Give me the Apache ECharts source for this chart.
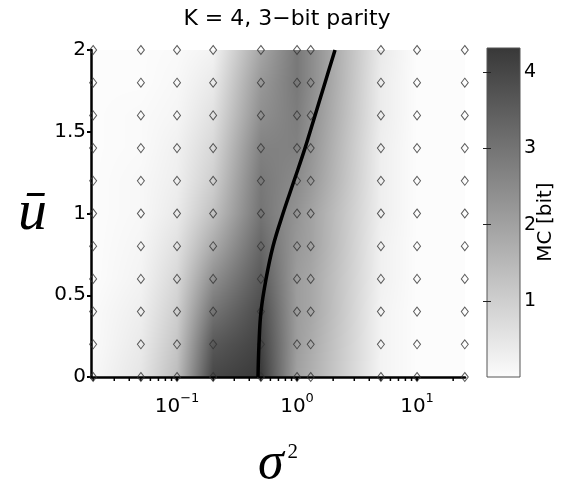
<!DOCTYPE html>
<html>
<head>
<meta charset="utf-8">
<script src="https://cdn.jsdelivr.net/npm/echarts@6/dist/echarts.min.js"></script>
<style>
  html, body { margin: 0; padding: 0; background: #fff; }
  #chart { width: 566px; height: 479px; }
</style>
</head>
<body>
<div id="chart"></div>
<script>
// Sampled input-noise variance (log axis) and mean input bias
const sigma2 = [0.02, 0.05, 0.1, 0.2, 0.5, 1, 1.3, 5, 10, 25];
const ubar = [0, 0.2, 0.4, 0.6, 0.8, 1.0, 1.2, 1.4, 1.6, 1.8, 2.0];

// Memory capacity (bits); one row per ubar value, one column per sigma2 value
const mcRow00 = [0.10, 0.50, 1.40, 4.00, 4.30, 2.00, 1.70, 0.20, 0, 0];
const mcRow02 = [0.05, 0.40, 1.20, 3.60, 4.10, 2.10, 1.80, 0.20, 0, 0];
const mcRow04 = [0.05, 0.30, 1.00, 3.00, 3.90, 2.10, 1.90, 0.20, 0, 0];
const mcRow06 = [0, 0.20, 0.80, 2.40, 3.60, 2.10, 1.90, 0.25, 0, 0];
const mcRow08 = [0, 0.15, 0.60, 1.80, 3.30, 2.20, 2.00, 0.25, 0, 0];
const mcRow10 = [0, 0.10, 0.40, 1.30, 3.00, 2.30, 2.00, 0.30, 0, 0];
const mcRow12 = [0, 0.10, 0.30, 1.00, 2.90, 2.50, 2.20, 0.30, 0, 0];
const mcRow14 = [0, 0.05, 0.25, 0.80, 2.70, 2.70, 2.30, 0.30, 0, 0];
const mcRow16 = [0, 0.05, 0.15, 0.60, 2.40, 2.80, 2.40, 0.35, 0, 0];
const mcRow18 = [0, 0, 0.10, 0.40, 2.20, 2.90, 2.50, 0.35, 0, 0];
const mcRow20 = [0, 0, 0.05, 0.20, 1.90, 2.90, 2.50, 0.40, 0, 0];
const mc = [mcRow00, mcRow02, mcRow04, mcRow06, mcRow08, mcRow10,
            mcRow12, mcRow14, mcRow16, mcRow18, mcRow20];

// Order/chaos transition line
const criticalSigma2 = [0.473, 0.482, 0.501, 0.552, 0.631, 0.764, 0.944, 1.166, 1.413, 1.711, 2.073];
const criticalU      = [0, 0.2, 0.4, 0.6, 0.8, 1.0, 1.2, 1.4, 1.6, 1.8, 2.0];

// Colour scale
const mcMin = 0;
const mcMax = 4.32;
const mcTicks = [1, 2, 3, 4];
const yTicks = [0, 0.5, 1, 1.5, 2];

const SANS = '"DejaVu Sans", "Liberation Sans", sans-serif';
const SERIF = '"Liberation Serif", "DejaVu Serif", serif';

function grayLevel(v) {
  let t = (v - mcMin) / (mcMax - mcMin);
  t = Math.max(0, Math.min(1, t));
  return Math.round(252 - t * (252 - 56));
}
function grayCss(v) {
  const g = grayLevel(v);
  return 'rgb(' + g + ',' + g + ',' + g + ')';
}

const gridPoints = [];
ubar.forEach((u, j) => sigma2.forEach((s, i) => gridPoints.push([s, u, mc[j][i]])));
const curveData = criticalSigma2.map((s, k) => [s, criticalU[k]]);

// minor ticks of the log axis: 2..9 x 10^k
const minorTickValues = [];
for (let e = -2; e <= 1; e++) {
  for (let m = 2; m <= 9; m++) {
    const v = m * Math.pow(10, e);
    if (v > 0.0192 && v < 25.1) minorTickValues.push(v);
  }
}

// Smooth shading of the sampled field, bilinear between samples on screen
function renderField(params, api) {
  if (params.dataIndex !== 0) return null;
  const xs = sigma2.map(s => api.coord([s, ubar[0]])[0]);
  const ys = ubar.map(u => api.coord([sigma2[0], u])[1]);
  const x0 = Math.floor(xs[0]), x1 = Math.ceil(xs[xs.length - 1]);
  const yTop = Math.floor(ys[ys.length - 1]), yBot = Math.ceil(ys[0]);
  const w = x1 - x0, h = yBot - yTop;
  const canvas = document.createElement('canvas');
  canvas.width = w; canvas.height = h;
  const ctx = canvas.getContext('2d');
  const img = ctx.createImageData(w, h);
  for (let py = 0; py < h; py++) {
    const Y = yTop + py + 0.5;
    let j = 0;
    while (j < ys.length - 2 && Y < ys[j + 1]) j++;
    let ty = (ys[j] - Y) / (ys[j] - ys[j + 1]);
    ty = Math.max(0, Math.min(1, ty));
    for (let px = 0; px < w; px++) {
      const X = x0 + px + 0.5;
      let i = 0;
      while (i < xs.length - 2 && X > xs[i + 1]) i++;
      let tx = (X - xs[i]) / (xs[i + 1] - xs[i]);
      tx = Math.max(0, Math.min(1, tx));
      const v = (1 - ty) * ((1 - tx) * mc[j][i] + tx * mc[j][i + 1]) +
                ty * ((1 - tx) * mc[j + 1][i] + tx * mc[j + 1][i + 1]);
      const g = grayLevel(v);
      const k = (py * w + px) * 4;
      img.data[k] = g; img.data[k + 1] = g; img.data[k + 2] = g; img.data[k + 3] = 255;
    }
  }
  ctx.putImageData(img, 0, 0);
  return { type: 'image', style: { image: canvas, x: x0, y: yTop, width: w, height: h } };
}

function renderMinorTicks(params, api) {
  const p = api.coord([api.value(0), 0]);
  return {
    type: 'line',
    shape: { x1: p[0], y1: p[1] + 1, x2: p[0], y2: p[1] + 4 },
    style: { stroke: '#000', lineWidth: 1.5 }
  };
}

function renderColorbar(params, api) {
  const p0 = api.coord([0, mcMin]);
  const p1 = api.coord([1, mcMax]);
  return {
    type: 'rect',
    shape: { x: p0[0], y: p1[1], width: p1[0] - p0[0], height: p0[1] - p1[1] },
    style: {
      fill: new echarts.graphic.LinearGradient(0, 1, 0, 0, [
        { offset: 0, color: grayCss(mcMin) },
        { offset: 1, color: grayCss(mcMax) }
      ]),
      stroke: '#555',
      lineWidth: 1
    }
  };
}

function powerLabel(value) {
  const e = Math.round(Math.log10(value));
  const s = e < 0 ? '\u2212' + (-e) : String(e);
  return '{b|10}{e|' + s + '}';
}

const chart = echarts.init(document.getElementById('chart'), null, { renderer: 'canvas' });

chart.setOption({
  animation: false,
  backgroundColor: '#fff',
  title: {
    text: 'K = 4, 3\u2212bit parity',
    left: 282,
    top: 3,
    textAlign: 'center',
    textStyle: { fontFamily: SANS, fontSize: 22, fontWeight: 'normal', color: '#000' }
  },
  grid: [
    { left: 91, top: 50, width: 374, height: 327, outerBoundsMode: 'none', containLabel: false },
    { left: 487, top: 48, width: 33, height: 329, outerBoundsMode: 'none', containLabel: false }
  ],
  xAxis: [
    {
      gridIndex: 0,
      type: 'log',
      logBase: 10,
      min: 0.0192,
      max: 25.1,
      z: 10,
      name: '{s|\u03c3}{p|2}',
      nameLocation: 'middle',
      nameGap: 59,
      nameTextStyle: {
        rich: {
          s: { fontFamily: SERIF, fontStyle: 'italic', fontSize: 52, color: '#000', lineHeight: 54, verticalAlign: 'bottom' },
          p: { fontFamily: SERIF, fontSize: 21, color: '#000', lineHeight: 21, verticalAlign: 'top', padding: [6, 0, 0, 4] }
        }
      },
      axisLine: { show: true, lineStyle: { color: '#000', width: 2.5 } },
      axisTick: { show: true, inside: false, length: 4, lineStyle: { color: '#000', width: 2 } },
      axisLabel: {
        margin: 10,
        showMinLabel: false,
        showMaxLabel: false,
        formatter: powerLabel,
        rich: {
          b: { fontFamily: SANS, fontSize: 20, color: '#000', lineHeight: 30, verticalAlign: 'bottom' },
          e: { fontFamily: SANS, fontSize: 13, color: '#000', lineHeight: 16, verticalAlign: 'top', padding: [5, 0, 0, 0] }
        }
      },
      splitLine: { show: false },
      minorTick: { show: false }
    },
    { gridIndex: 1, type: 'value', min: 0, max: 1, show: false }
  ],
  yAxis: [
    {
      gridIndex: 0,
      type: 'value',
      min: 0,
      max: 2,
      interval: 0.5,
      z: 10,
      name: '\u016b',
      nameLocation: 'middle',
      nameRotate: 0,
      nameGap: 44,
      nameTextStyle: { fontFamily: SERIF, fontStyle: 'italic', fontSize: 58, color: '#000' },
      axisLine: { show: true, lineStyle: { color: '#000', width: 2.5 } },
      axisTick: { show: true, inside: false, length: 4, lineStyle: { color: '#000', width: 2 } },
      axisLabel: {
        margin: 5,
        fontFamily: SANS,
        fontSize: 20,
        color: '#000',
        formatter: v => (yTicks.indexOf(v) >= 0 ? String(v) : '')
      },
      splitLine: { show: false }
    },
    {
      gridIndex: 1,
      type: 'value',
      position: 'right',
      min: mcMin,
      max: mcMax,
      interval: 1,
      z: 10,
      axisLine: { show: false },
      axisTick: {
        show: true, inside: true, length: 4, lineStyle: { color: '#222', width: 1 },
        customValues: mcTicks
      },
      axisLabel: {
        margin: 4,
        fontFamily: SANS,
        fontSize: 19,
        color: '#000',
        customValues: mcTicks
      },
      splitLine: { show: false }
    },
    {
      gridIndex: 1,
      type: 'value',
      position: 'left',
      min: mcMin,
      max: mcMax,
      interval: 1,
      z: 10,
      axisLine: { show: false },
      axisTick: {
        show: true, inside: true, length: 4, lineStyle: { color: '#222', width: 1 },
        customValues: mcTicks
      },
      axisLabel: { show: false },
      splitLine: { show: false }
    }
  ],
  graphic: [
    {
      type: 'text', x: 105, y: 133,
      style: { text: 'ordered', fontFamily: SANS, fontSize: 24, fill: '#000', align: 'left', verticalAlign: 'middle' }
    },
    {
      type: 'text', x: 370, y: 133,
      style: { text: 'chaotic', fontFamily: SANS, fontSize: 24, fill: '#000', align: 'left', verticalAlign: 'middle' }
    },
    {
      type: 'text', x: 546, y: 222, rotation: Math.PI / 2,
      style: { text: 'MC [bit]', fontFamily: SANS, fontSize: 20, fill: '#000', align: 'center', verticalAlign: 'middle' }
    }
  ],
  series: [
    {
      name: 'MC field',
      type: 'custom',
      xAxisIndex: 0, yAxisIndex: 0,
      renderItem: renderField,
      data: gridPoints,
      z: 1,
      silent: true
    },
    {
      name: 'minor ticks',
      type: 'custom',
      xAxisIndex: 0, yAxisIndex: 0,
      renderItem: renderMinorTicks,
      data: minorTickValues.map(v => [v, 0]),
      clip: false,
      z: 12,
      silent: true
    },
    {
      name: 'samples',
      type: 'scatter',
      xAxisIndex: 0, yAxisIndex: 0,
      data: gridPoints.map(p => [p[0], p[1]]),
      symbol: 'diamond',
      symbolSize: [7, 9],
      itemStyle: { color: 'rgba(0,0,0,0)', borderColor: '#333', borderWidth: 1 },
      z: 13,
      silent: true
    },
    {
      name: 'transition',
      type: 'line',
      xAxisIndex: 0, yAxisIndex: 0,
      data: curveData,
      smooth: 0.4,
      showSymbol: false,
      symbol: 'none',
      lineStyle: { color: '#000', width: 3.5 },
      z: 14,
      silent: true
    },
    {
      name: 'colorbar',
      type: 'custom',
      xAxisIndex: 1, yAxisIndex: 1,
      renderItem: renderColorbar,
      data: [[0, mcMin]],
      z: 2,
      silent: true
    }
  ]
});
</script>
</body>
</html>
